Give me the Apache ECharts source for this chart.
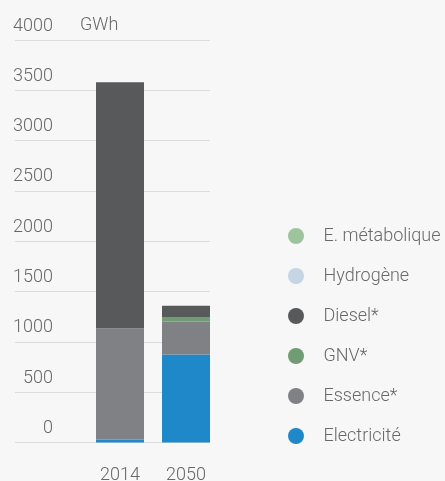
<!DOCTYPE html>
<html>
<head>
<meta charset="utf-8">
<script src="https://cdn.jsdelivr.net/npm/echarts@6/dist/echarts.min.js"></script>
<style>
  html, body { margin: 0; padding: 0; background: #f7f7f7; }
  #chart { width: 445px; height: 481px; }
</style>
</head>
<body>
<div id="chart"></div>
<script>
// années
const years = ['2014', '2050'];

// consommation en GWh
const electricite = [30, 875];
const essence = [1105, 328];
const gnv = [0, 43];
const diesel = [2445, 112];
const hydrogene = [0, 0];
const metabolique = [0, 0];

const yTicks = { min: 0, max: 4000, interval: 500 };

const legendOrder = ['E. métabolique', 'Hydrogène', 'Diesel*', 'GNV*', 'Essence*', 'Electricité'];

const font = "Roboto, sans-serif";
const fontSize = 18;
const textColor = '#67686a';

const chart = echarts.init(document.getElementById('chart'));

const makeBar = (name, data, color) => ({
  name,
  type: 'bar',
  stack: 'total',
  xAxisIndex: 1,
  yAxisIndex: 1,
  barWidth: 48,
  data,
  itemStyle: { color },
  emphasis: { disabled: true },
});

const option = {
  backgroundColor: '#f7f7f7',
  animation: false,
  title: {
    text: 'GWh',
    left: 80,
    top: 16,
    padding: 0,
    textStyle: { fontFamily: font, fontSize, fontWeight: 300, color: textColor },
  },
  legend: {
    data: legendOrder,
    orient: 'vertical',
    left: 283,
    top: 221,
    icon: 'circle',
    itemWidth: 45,
    itemHeight: 16,
    itemGap: 20,
    textStyle: { fontFamily: font, fontSize, fontWeight: 300, color: textColor, lineHeight: 20 },
    selectedMode: false,
  },
  grid: [
    { left: 15, right: 235, top: 40, bottom: 38.5, outerBoundsMode: 'none' },
    { left: 87, right: 226, top: 40, bottom: 38.5, outerBoundsMode: 'none' },
  ],
  xAxis: [
    { type: 'category', gridIndex: 0, data: [''], show: false },
    {
      type: 'category',
      gridIndex: 1,
      data: years,
      axisLine: { show: false },
      axisTick: { show: false },
      axisLabel: { margin: 24, fontFamily: font, fontSize, fontWeight: 300, color: textColor },
    },
  ],
  yAxis: [
    {
      type: 'value',
      gridIndex: 0,
      min: yTicks.min,
      max: yTicks.max,
      interval: yTicks.interval,
      axisLine: { show: false },
      axisTick: { show: false },
      splitLine: { lineStyle: { color: '#dcdcdc', width: 1 } },
      axisLabel: {
        inside: true,
        margin: 38,
        align: 'right',
        verticalAlign: 'bottom',
        padding: [0, 0, 5, 0],
        formatter: v => String(v),
        fontFamily: font,
        fontSize,
        fontWeight: 300,
        color: textColor,
      },
    },
    {
      type: 'value',
      gridIndex: 1,
      min: yTicks.min,
      max: yTicks.max,
      interval: yTicks.interval,
      show: false,
      splitLine: { show: false },
    },
  ],
  series: [
    makeBar('Electricité', electricite, '#1e88c9'),
    makeBar('Essence*', essence, '#808184'),
    makeBar('GNV*', gnv, '#6f9c72'),
    makeBar('Diesel*', diesel, '#58595b'),
    makeBar('Hydrogène', hydrogene, '#c5d5e3'),
    makeBar('E. métabolique', metabolique, '#9dc49a'),
  ],
};

chart.setOption(option);
</script>
</body>
</html>
